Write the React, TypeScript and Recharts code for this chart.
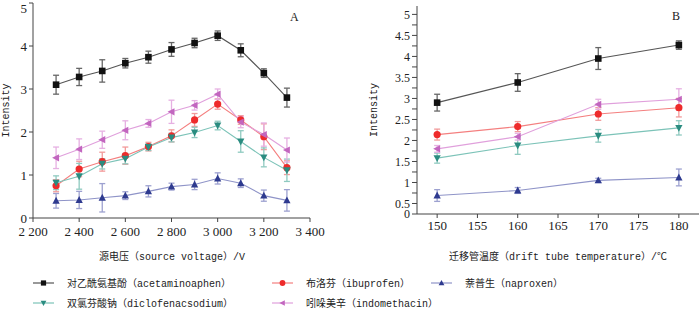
import { LineChart, Line, XAxis, YAxis, ErrorBar } from 'recharts';

// panel A: intensity vs source voltage (V)
const voltages = [2300, 2400, 2500, 2600, 2700, 2800, 2900, 3000, 3100, 3200, 3300];
const voltageTicks = [2200, 2400, 2600, 2800, 3000, 3200, 3400];
const intensityTicksA = [0, 1, 2, 3, 4, 5];

const acetaminophenA = [3.1, 3.28, 3.42, 3.6, 3.74, 3.92, 4.07, 4.24, 3.9, 3.37, 2.8];
const acetaminophenAErr = [0.22, 0.2, 0.26, 0.11, 0.14, 0.16, 0.11, 0.11, 0.15, 0.1, 0.22];
const ibuprofenA = [0.75, 1.14, 1.31, 1.45, 1.66, 1.91, 2.28, 2.65, 2.28, 1.89, 1.17];
const ibuprofenAErr = [0.14, 0.18, 0.22, 0.2, 0.1, 0.14, 0.15, 0.12, 0.1, 0.3, 0.16];
const naproxenA = [0.4, 0.42, 0.47, 0.52, 0.62, 0.73, 0.78, 0.92, 0.81, 0.52, 0.41];
const naproxenAErr = [0.17, 0.2, 0.33, 0.09, 0.13, 0.08, 0.12, 0.13, 0.1, 0.13, 0.25];
const diclofenacA = [0.82, 0.97, 1.26, 1.38, 1.65, 1.87, 1.99, 2.15, 1.78, 1.41, 1.11];
const diclofenacAErr = [0.16, 0.3, 0.12, 0.12, 0.08, 0.1, 0.12, 0.1, 0.25, 0.22, 0.26];
const indomethacinA = [1.4, 1.6, 1.82, 2.04, 2.2, 2.47, 2.62, 2.88, 2.23, 1.94, 1.58];
const indomethacinAErr = [0.25, 0.24, 0.2, 0.22, 0.09, 0.27, 0.11, 0.12, 0.13, 0.27, 0.28];

// panel B: intensity vs drift tube temperature (°C)
const temperatures = [150, 160, 170, 180];
const temperatureTicks = [150, 155, 160, 165, 170, 175, 180];
const intensityTicksB = [0.25, 0.5, 0.75, 1, 1.25, 1.5, 1.75, 2, 2.25, 2.5, 2.75, 3, 3.25, 3.5, 3.75, 4, 4.25, 4.5, 4.75, 5];

const acetaminophenB = [2.9, 3.38, 3.95, 4.27];
const acetaminophenBErr = [0.2, 0.21, 0.26, 0.1];
const ibuprofenB = [2.14, 2.33, 2.63, 2.78];
const ibuprofenBErr = [0.13, 0.12, 0.15, 0.22];
const naproxenB = [0.69, 0.81, 1.05, 1.12];
const naproxenBErr = [0.14, 0.07, 0.05, 0.2];
const diclofenacB = [1.58, 1.88, 2.11, 2.3];
const diclofenacBErr = [0.12, 0.21, 0.15, 0.17];
const indomethacinB = [1.8, 2.09, 2.86, 2.98];
const indomethacinBErr = [0.08, 0.08, 0.12, 0.25];

type Shape = 'square' | 'circle' | 'up' | 'down' | 'left';

const series: { key: string; label: string; shape: Shape; marker: string; line: string; bar: string }[] = [
  { key: 'acetaminophen', label: '对乙酰氨基酚（acetaminoaphen）', shape: 'square', marker: '#111111', line: '#555555', bar: '#666666' },
  { key: 'ibuprofen', label: '布洛芬（ibuprofen）', shape: 'circle', marker: '#ee2b2b', line: '#f47f7f', bar: '#f29a9a' },
  { key: 'naproxen', label: '萘普生（naproxen）', shape: 'up', marker: '#2e3a8f', line: '#8f94c8', bar: '#9da1d0' },
  { key: 'diclofenac', label: '双氯芬酸钠（diclofenacsodium）', shape: 'down', marker: '#2a8c80', line: '#7cc3b8', bar: '#8fcac0' },
  { key: 'indomethacin', label: '吲哚美辛（indomethacin）', shape: 'left', marker: '#c266bf', line: '#e0a0dc', bar: '#e6b0e2' },
];

const rowsA = voltages.map((v, i) => ({
  x: v,
  acetaminophen: acetaminophenA[i], acetaminophenErr: acetaminophenAErr[i],
  ibuprofen: ibuprofenA[i], ibuprofenErr: ibuprofenAErr[i],
  naproxen: naproxenA[i], naproxenErr: naproxenAErr[i],
  diclofenac: diclofenacA[i], diclofenacErr: diclofenacAErr[i],
  indomethacin: indomethacinA[i], indomethacinErr: indomethacinAErr[i],
}));

const rowsB = temperatures.map((t, i) => ({
  x: t,
  acetaminophen: acetaminophenB[i], acetaminophenErr: acetaminophenBErr[i],
  ibuprofen: ibuprofenB[i], ibuprofenErr: ibuprofenBErr[i],
  naproxen: naproxenB[i], naproxenErr: naproxenBErr[i],
  diclofenac: diclofenacB[i], diclofenacErr: diclofenacBErr[i],
  indomethacin: indomethacinB[i], indomethacinErr: indomethacinBErr[i],
}));

function Marker({ cx, cy, shape, color, s = 3.3 }: { cx: number; cy: number; shape: Shape; color: string; s?: number }) {
  if (cx == null || cy == null) return null;
  switch (shape) {
    case 'square':
      return <rect x={cx - s} y={cy - s} width={2 * s} height={2 * s} fill={color} />;
    case 'circle':
      return <circle cx={cx} cy={cy} r={s + 0.3} fill={color} />;
    case 'up':
      return <polygon points={`${cx},${cy - s * 1.2} ${cx + s * 1.1},${cy + s * 0.9} ${cx - s * 1.1},${cy + s * 0.9}`} fill={color} />;
    case 'down':
      return <polygon points={`${cx},${cy + s * 1.2} ${cx + s * 1.1},${cy - s * 0.9} ${cx - s * 1.1},${cy - s * 0.9}`} fill={color} />;
    default:
      return <polygon points={`${cx - s * 1.2},${cy} ${cx + s * 0.9},${cy - s * 1.1} ${cx + s * 0.9},${cy + s * 1.1}`} fill={color} />;
  }
}

const tickStyle = { fontSize: 13, fill: '#222' };
const axisColor = '#444';

function seriesLines() {
  return series.map((s) => (
    <Line
      key={s.key}
      dataKey={s.key}
      stroke={s.line}
      strokeWidth={1.1}
      isAnimationActive={false}
      dot={(p: any) => <Marker key={`${s.key}-${p.index}`} cx={p.cx} cy={p.cy} shape={s.shape} color={s.marker} />}
      activeDot={false}
    >
      <ErrorBar dataKey={`${s.key}Err`} width={3} stroke={s.bar} strokeWidth={1.3} isAnimationActive={false} />
    </Line>
  ));
}

function LegendItem({ x, y, s }: { x: number; y: number; s: (typeof series)[number] }) {
  return (
    <g>
      <line x1={x} y1={y} x2={x + 21} y2={y} stroke={s.line} strokeWidth={1.2} />
      <Marker cx={x + 10.5} cy={y} shape={s.shape} color={s.marker} s={2.6} />
      <text x={x + 34} y={y + 4} fontSize={10} fill="#222">{s.label}</text>
    </g>
  );
}

export default function App() {
  return (
    <div
      style={{
        position: 'absolute',
        left: 0,
        top: 0,
        width: 700,
        height: 309,
        background: '#fff',
        fontFamily: "'Liberation Serif', 'Noto Sans CJK SC', serif",
      }}
    >
      <div style={{ position: 'absolute', left: 0, top: 0 }}>
        <LineChart width={330} height={245} data={rowsA} margin={{ top: 3, right: 20, bottom: 5, left: 0 }}>
          <XAxis
            dataKey="x"
            type="number"
            domain={[2200, 3400]}
            ticks={voltageTicks}
            tickFormatter={(v: number) => `${Math.floor(v / 1000)} ${String(v % 1000).padStart(3, '0')}`}
            tick={tickStyle}
            tickSize={4}
            tickMargin={5}
            height={22}
            stroke={axisColor}
          />
          <YAxis
            type="number"
            domain={[0, 5]}
            ticks={intensityTicksA}
            tick={tickStyle}
            tickSize={4}
            tickMargin={2}
            width={33}
            stroke={axisColor}
            label={{
              value: 'Intensity',
              angle: -90,
              position: 'insideLeft',
              offset: 5,
              style: { textAnchor: 'middle', fontSize: 10, fill: '#222', fontFamily: "'Liberation Mono', monospace" },
            }}
          />
          {seriesLines()}
        </LineChart>
      </div>
      <div style={{ position: 'absolute', left: 350, top: 0 }}>
        <LineChart width={350} height={245} data={rowsB} margin={{ top: 6, right: 1, bottom: 9, left: 0 }}>
          <XAxis
            dataKey="x"
            type="number"
            domain={[147.5, 182.5]}
            ticks={temperatureTicks}
            tick={tickStyle}
            tickSize={4}
            tickMargin={3}
            height={22}
            stroke={axisColor}
          />
          <YAxis
            type="number"
            domain={[0.25, 5.2]}
            ticks={intensityTicksB}
            tickFormatter={(v: number) => (v === 0.25 ? '0' : v % 0.5 === 0 ? String(v) : '')}
            tick={{ fontSize: 12, fill: '#222' }}
            tickSize={5}
            tickMargin={2}
            width={67}
            stroke={axisColor}
            interval={0}
            label={{
              value: 'Intensity',
              angle: -90,
              position: 'insideLeft',
              offset: 23,
              style: { textAnchor: 'middle', fontSize: 10, fill: '#222', fontFamily: "'Liberation Mono', monospace" },
            }}
          />
          {seriesLines()}
        </LineChart>
      </div>
      <svg
        width={700}
        height={309}
        style={{ position: 'absolute', left: 0, top: 0, pointerEvents: 'none', fontFamily: "'Liberation Mono', 'Noto Sans CJK SC', monospace" }}
      >
        <text x={290} y={21} fontSize={12} fill="#222" fontFamily="'Liberation Serif', serif">A</text>
        <text x={672} y={20} fontSize={12} fill="#222" fontFamily="'Liberation Serif', serif">B</text>
        <text x={172} y={260} fontSize={10} fill="#222" textAnchor="middle">源电压（source voltage）/V</text>
        <text x={558} y={260} fontSize={10} fill="#222" textAnchor="middle">迁移管温度（drift tube temperature）/℃</text>
        <LegendItem x={33} y={283} s={series[0]} />
        <LegendItem x={272} y={283} s={series[1]} />
        <LegendItem x={431} y={283} s={series[2]} />
        <LegendItem x={33} y={303} s={series[3]} />
        <LegendItem x={272} y={303} s={series[4]} />
      </svg>
    </div>
  );
}
